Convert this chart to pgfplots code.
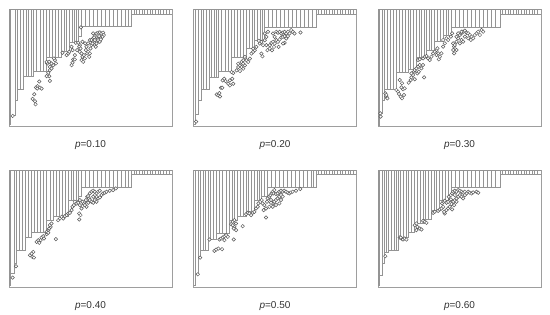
\documentclass[border=0pt]{standalone}
\usepackage{fontspec}
\setmainfont{Liberation Sans}
\usepackage{pgfplots}
\pgfplotsset{compat=1.18}
\pgfplotsset{
  panel/.style={scale only axis, width=163pt, height=117pt, y dir=reverse,
    ticks=none, axis line style={draw=black!38, line width=0.8pt},
    xlabel style={at={(axis description cs:0.5,0)}, anchor=base, yshift=-22pt,
      font=\fontsize{10}{12}\selectfont, text=black!80}},
  stairs/.style={ybar interval, draw=black!42, fill=none, line width=0.6pt},
  pts/.style={only marks, mark=*, mark size=1.75pt,
    mark options={fill=white, draw=black!65, line width=0.5pt}}
}
\begin{document}
\begin{tikzpicture}
\path (0,0) rectangle (550pt,313pt);
% ---------- p = 0.10
\begin{axis}[panel, at={(9pt,187pt)}, anchor=south west,
  xmin=27, xmax=517, ymin=27, ymax=377, xlabel={\textit{p}=0.10}]
\addplot[stairs] table[row sep=\\]{
27 372 \\ 32 345 \\ 45 300 \\ 53 268 \\ 61 268 \\ 70 228 \\ 78 228 \\ 86 228 \\ 93 228 \\
100 212 \\ 110 212 \\ 120 212 \\ 130 212 \\ 140 172 \\ 149 172 \\ 158 172 \\ 167 172 \\ 176 172 \\
185 155 \\ 193 155 \\ 200 155 \\ 208 128 \\ 216 128 \\ 224 128 \\ 230 128 \\ 236 108 \\
245 80 \\ 257 80 \\ 269 80 \\ 281 80 \\ 293 80 \\ 305 80 \\ 317 80 \\ 329 80 \\ 341 80 \\ 353 80 \\ 365 80 \\ 377 80 \\ 386 80 \\
395 42 \\ 403 42 \\ 411 42 \\ 419 42 \\ 427 42 \\ 435 42 \\ 443 42 \\ 451 42 \\ 459 42 \\ 467 42 \\ 475 42 \\ 483 42 \\ 491 42 \\ 499 42 \\ 508 42 \\ 517 42 \\
};
\addplot[pts] coordinates {
(38,347) (103,282) (98,296) (105,303) (107,312)
(108,262) (113,258) (118,244) (120,262) (125,265) (112,265)
(150,242) (148,228) (140,228) (145,218) (150,210) (150,200) (142,190) (140,185) (148,185) (155,190) (165,180) (160,195) (168,190) (155,205) (162,175)
(188,158) (200,165) (205,160) (208,155) (215,140) (218,150) (220,178) (225,178) (218,188) (215,195) (225,165)
(228,128) (235,128) (240,135) (232,150) (240,155) (245,160) (248,170) (252,165) (255,175) (245,180) (250,185) (238,140) (242,145) (248,125) (256,130) (260,140) (258,150) (262,160) (265,155) (268,170) (270,160) (272,145) (275,135) (278,125) (270,120) (265,130) (280,115) (285,108) (290,100) (295,98) (300,97) (305,100) (310,98) (312,105) (308,110) (300,112) (295,115) (290,125) (285,135) (290,130) (295,120) (300,125) (303,118) (280,100) (283,112) (275,120) (298,108) (285,120) (278,130) (288,140) (243,82)
};
\end{axis}
% ---------- p = 0.20
\begin{axis}[panel, at={(193.5pt,187pt)}, anchor=south west,
  xmin=25, xmax=517, ymin=27, ymax=376, xlabel={\textit{p}=0.20}]
\addplot[stairs] table[row sep=\\]{
25 370 \\ 30 340 \\ 38 300 \\ 48 268 \\ 56 268 \\ 64 268 \\ 72 230 \\ 80 230 \\ 88 230 \\ 95 230 \\
100 212 \\ 110 212 \\ 120 212 \\ 130 212 \\ 140 170 \\ 149 170 \\ 158 170 \\ 167 170 \\ 176 170 \\
185 145 \\ 193 145 \\ 202 145 \\ 210 120 \\ 218 120 \\ 226 120 \\ 233 120 \\
240 82 \\ 252 82 \\ 264 82 \\ 276 82 \\ 288 82 \\ 300 82 \\ 312 82 \\ 324 82 \\ 336 82 \\ 348 82 \\ 360 82 \\ 372 82 \\ 384 82 \\
395 42 \\ 403 42 \\ 411 42 \\ 419 42 \\ 427 42 \\ 435 42 \\ 443 42 \\ 451 42 \\ 459 42 \\ 467 42 \\ 475 42 \\ 483 42 \\ 491 42 \\ 499 42 \\ 508 42 \\ 517 42 \\
};
\addplot[pts] coordinates {
(33,363) (95,282) (100,285) (105,288) (103,278) (108,262) (112,262) (113,240) (118,235) (122,242) (135,240) (142,235) (145,250) (130,250) (135,255) (145,218) (140,215)
(155,210) (160,200) (165,195) (170,185) (175,180) (180,170) (185,180) (190,185) (195,175) (200,160) (205,155) (210,150) (215,140) (205,145) (165,212) (175,205) (180,195) (170,200) (160,190) (175,190)
(225,130) (230,125) (235,135) (222,122) (240,120) (245,110) (240,100) (250,95) (245,135) (248,150) (255,135) (260,128) (265,125) (268,140) (270,130) (275,120) (270,110) (265,100) (275,95) (280,98) (285,95) (290,100) (295,97) (300,95) (305,100) (310,95) (320,90) (315,100) (325,95) (330,100) (348,97) (290,112) (295,110) (285,118) (300,128) (280,125) (282,140) (295,130) (305,115) (310,108) (300,108) (262,150) (230,160) (233,168) (255,145)
};
\end{axis}
% ---------- p = 0.30
\begin{axis}[panel, at={(378pt,187pt)}, anchor=south west,
  xmin=40, xmax=528, ymin=27, ymax=378, xlabel={\textit{p}=0.30}]
\addplot[stairs] table[row sep=\\]{
40 375 \\ 45 340 \\ 52 300 \\ 60 268 \\ 68 268 \\ 76 268 \\ 85 268 \\
95 218 \\ 104 218 \\ 113 218 \\ 122 218 \\ 130 208 \\ 138 208 \\ 146 208 \\
155 172 \\ 163 172 \\ 171 172 \\ 178 172 \\ 185 150 \\ 193 150 \\ 201 150 \\
210 125 \\ 218 125 \\ 226 125 \\ 235 105 \\ 243 105 \\ 250 105 \\
258 82 \\ 270 82 \\ 282 82 \\ 294 82 \\ 306 82 \\ 318 82 \\ 330 82 \\ 342 82 \\ 354 82 \\ 366 82 \\ 378 82 \\ 390 82 \\
405 42 \\ 413 42 \\ 421 42 \\ 429 42 \\ 437 42 \\ 445 42 \\ 453 42 \\ 461 42 \\ 469 42 \\ 477 42 \\ 485 42 \\ 493 42 \\ 501 42 \\ 509 42 \\ 518 42 \\ 528 42 \\
};
\addplot[pts] coordinates {
(47,340) (48,350) (62,280) (65,290) (68,295) (65,285)
(95,270) (100,275) (103,282) (108,290) (112,295) (118,285) (115,268) (120,265) (110,262) (105,240) (112,250)
(132,248) (138,240) (140,232) (145,225) (148,215) (150,210) (155,205) (160,200) (165,195) (170,205) (175,195) (178,232) (158,220) (162,215) (140,220) (150,238)
(160,180) (165,178) (175,175) (180,170) (185,168) (190,175) (195,180) (200,170) (205,160) (210,155) (215,150) (218,145) (220,160) (215,165) (222,178) (225,170) (230,160) (235,140) (240,130) (235,120) (245,115) (250,120) (258,110) (262,100) (265,130) (268,140) (270,135) (275,125) (275,150) (265,150) (268,160) (280,115) (285,105) (290,100) (295,95) (300,92) (305,98) (310,100) (315,105) (320,110) (325,115) (330,105) (335,100) (340,95) (350,90) (355,95) (345,105) (290,120) (295,125) (285,130) (300,110) (310,115) (318,120) (280,100) (275,110) (290,95)
};
\end{axis}
% ---------- p = 0.40
\begin{axis}[panel, at={(9pt,26pt)}, anchor=south west,
  xmin=27, xmax=517, ymin=30, ymax=380, xlabel={\textit{p}=0.40}]
\addplot[stairs] table[row sep=\\]{
27 375 \\ 32 340 \\ 43 310 \\ 50 270 \\ 58 270 \\ 66 270 \\ 75 230 \\ 85 230 \\
95 215 \\ 104 215 \\ 113 215 \\ 122 215 \\ 131 215 \\ 140 180 \\ 150 180 \\
160 168 \\ 169 168 \\ 178 168 \\ 187 168 \\ 196 168 \\ 205 120 \\ 213 120 \\ 221 120 \\ 228 120 \\ 235 110 \\
245 82 \\ 257 82 \\ 269 82 \\ 281 82 \\ 293 82 \\ 305 82 \\ 317 82 \\ 329 82 \\ 341 82 \\ 353 82 \\ 365 82 \\ 377 82 \\ 386 82 \\
395 42 \\ 403 42 \\ 411 42 \\ 419 42 \\ 427 42 \\ 435 42 \\ 443 42 \\ 451 42 \\ 459 42 \\ 467 42 \\ 475 42 \\ 483 42 \\ 491 42 \\ 499 42 \\ 508 42 \\ 517 42 \\
};
\addplot[pts] coordinates {
(38,352) (48,318) (90,285) (97,290) (102,292) (100,275) (95,280)
(110,245) (115,240) (122,240) (118,248) (125,232) (130,228) (132,235) (140,222) (145,210) (148,205) (152,200) (150,195) (155,190) (140,215) (168,237) (145,218)
(175,180) (180,175) (185,170) (190,175) (195,168) (200,165) (205,160) (210,158) (215,150) (218,140) (222,135) (225,125) (230,130) (235,128) (240,135) (238,160) (242,165) (238,178) (245,145) (248,138) (252,130) (255,125) (258,120) (262,110) (265,108) (268,115) (270,120) (275,125) (280,128) (285,120) (290,125) (295,115) (300,112) (305,105) (310,100) (315,98) (320,95) (330,92) (340,90) (348,85) (270,100) (275,95) (280,92) (285,95) (290,100) (295,95) (300,92) (290,110) (285,105) (280,110) (265,128) (260,140) (255,135) (248,125) (240,120)
};
\end{axis}
% ---------- p = 0.50
\begin{axis}[panel, at={(193.5pt,26pt)}, anchor=south west,
  xmin=27, xmax=517, ymin=30, ymax=380, xlabel={\textit{p}=0.50}]
\addplot[stairs] table[row sep=\\]{
27 375 \\ 32 340 \\ 40 292 \\ 48 270 \\ 56 270 \\ 63 270 \\ 70 238 \\ 78 238 \\ 87 238 \\
95 220 \\ 105 220 \\ 115 220 \\ 125 220 \\ 135 180 \\ 143 180 \\ 151 180 \\ 160 170 \\ 168 170 \\ 176 170 \\
185 155 \\ 193 155 \\ 201 155 \\ 210 120 \\ 218 120 \\ 225 120 \\ 232 108 \\ 240 108 \\
248 82 \\ 260 82 \\ 272 82 \\ 284 82 \\ 296 82 \\ 308 82 \\ 320 82 \\ 332 82 \\ 344 82 \\ 356 82 \\ 368 82 \\ 380 82 \\ 388 82 \\
395 42 \\ 403 42 \\ 411 42 \\ 419 42 \\ 427 42 \\ 435 42 \\ 443 42 \\ 451 42 \\ 459 42 \\ 467 42 \\ 475 42 \\ 483 42 \\ 491 42 \\ 499 42 \\ 508 42 \\ 517 42 \\
};
\addplot[pts] coordinates {
(40,342) (47,292) (75,238) (90,272) (95,268) (102,265) (113,267)
(105,238) (110,235) (115,232) (120,228) (125,225) (130,230) (148,238) (120,240)
(140,192) (145,185) (150,180) (155,190) (150,200) (148,205) (155,210) (175,198) (145,195)
(185,162) (190,158) (195,160) (200,165) (205,158) (210,155) (215,145) (220,140) (222,130) (228,125) (232,120) (235,130) (240,135) (245,145) (238,150) (245,172) (248,125) (250,115) (255,110) (258,105) (262,100) (265,95) (270,90) (268,100) (275,102) (280,100) (285,95) (290,92) (295,95) (300,92) (305,95) (310,98) (315,100) (320,97) (325,95) (335,92) (348,87) (260,120) (265,130) (270,125) (275,120) (280,115) (285,110) (290,105) (295,110) (285,130) (275,135) (265,140) (255,140) (260,128) (290,120)
};
\end{axis}
% ---------- p = 0.60
\begin{axis}[panel, at={(378pt,26pt)}, anchor=south west,
  xmin=40, xmax=528, ymin=30, ymax=380, xlabel={\textit{p}=0.60}]
\addplot[stairs] table[row sep=\\]{
40 375 \\ 45 345 \\ 52 310 \\ 60 275 \\ 66 275 \\ 72 270 \\ 80 270 \\ 88 270 \\ 95 270 \\
100 230 \\ 108 230 \\ 116 230 \\ 124 230 \\ 130 215 \\ 140 215 \\ 150 190 \\ 158 190 \\ 166 190 \\
175 178 \\ 183 178 \\ 191 178 \\ 200 150 \\ 208 150 \\ 216 150 \\ 225 120 \\ 233 120 \\ 241 120 \\ 250 105 \\
260 82 \\ 272 82 \\ 284 82 \\ 296 82 \\ 308 82 \\ 320 82 \\ 332 82 \\ 344 82 \\ 356 82 \\ 368 82 \\ 380 82 \\ 392 82 \\
405 42 \\ 413 42 \\ 421 42 \\ 429 42 \\ 437 42 \\ 445 42 \\ 453 42 \\ 461 42 \\ 469 42 \\ 477 42 \\ 485 42 \\ 493 42 \\ 501 42 \\ 509 42 \\ 518 42 \\ 528 42 \\
};
\addplot[pts] coordinates {
(62,288) (105,232) (110,235) (115,238) (120,235) (125,238) (108,232)
(150,195) (155,190) (158,200) (165,205) (170,208) (175,182) (180,185) (185,188) (155,210)
(205,158) (210,155) (220,152) (225,148) (230,145) (235,140) (232,130) (236,125) (240,122) (245,128) (250,125) (255,120) (252,110) (258,105) (262,100) (265,95) (270,92) (275,95) (280,90) (285,92) (290,95) (295,98) (300,95) (305,100) (310,95) (315,98) (320,100) (325,97) (335,95) (340,98) (262,148) (240,160) (238,155) (245,150) (250,145) (255,140) (260,132) (265,125) (270,120) (275,115) (280,110) (285,105) (290,110) (295,115) (300,105) (270,105) (275,125) (268,135) (258,118)
};
\end{axis}
\end{tikzpicture}
\end{document}
